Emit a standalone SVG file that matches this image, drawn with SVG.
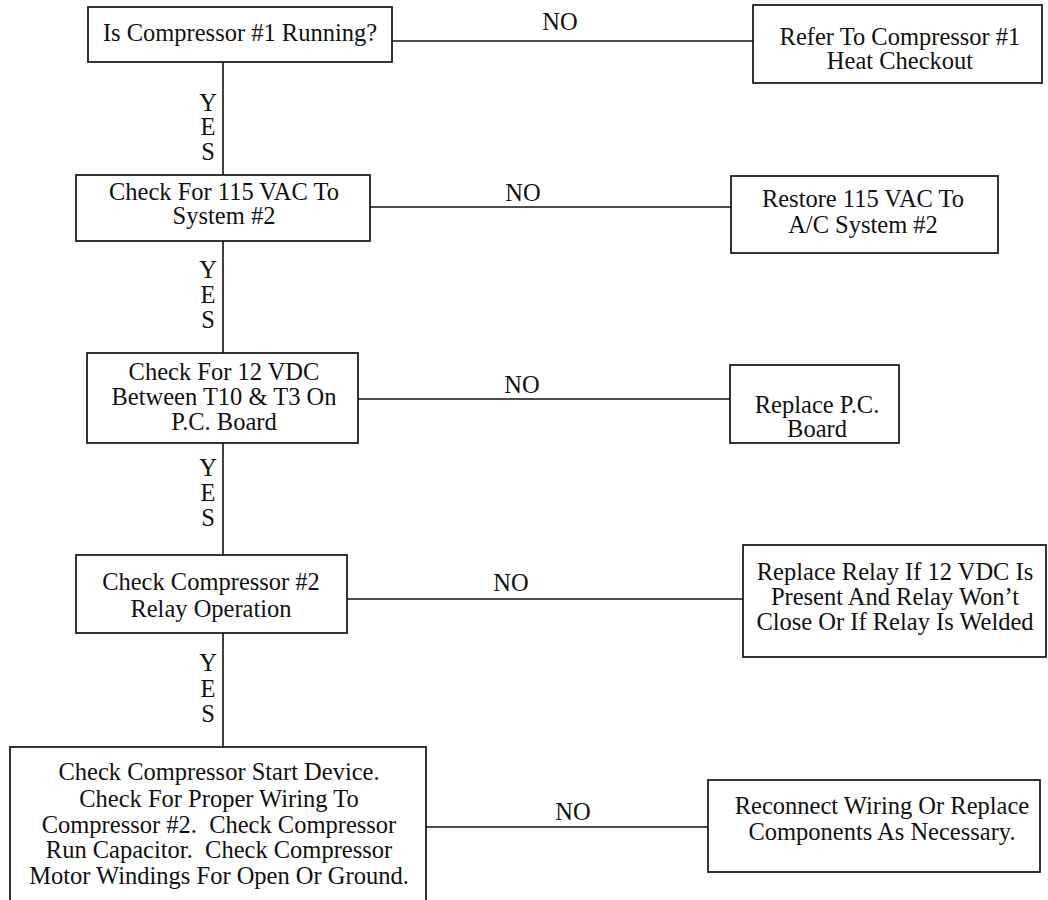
<svg xmlns="http://www.w3.org/2000/svg" width="1048" height="900" viewBox="0 0 1048 900">
<style>
.box{fill:#fff;stroke:#111;stroke-width:1.7}
.ln{stroke:#111;stroke-width:1.6;fill:none}
text{font-family:"Liberation Serif","Times New Roman",serif;font-size:24.5px;fill:#111;white-space:pre}
.c{text-anchor:middle}
</style>
<rect width="1048" height="900" fill="#fff"/>
<g id="connectors">
<line class="ln" x1="223" y1="62" x2="223" y2="175"/>
<line class="ln" x1="223" y1="241" x2="223" y2="353"/>
<line class="ln" x1="223" y1="443" x2="223" y2="555"/>
<line class="ln" x1="223" y1="633" x2="223" y2="747"/>
<line class="ln" x1="392" y1="41" x2="753" y2="41"/>
<line class="ln" x1="370" y1="207" x2="731" y2="207"/>
<line class="ln" x1="358" y1="399" x2="730" y2="399"/>
<line class="ln" x1="347" y1="599" x2="743" y2="599"/>
<line class="ln" x1="426" y1="827" x2="708" y2="827"/>
<text class="c" x="560" y="30">NO</text>
<text class="c" x="523" y="201">NO</text>
<text class="c" x="522" y="393">NO</text>
<text class="c" x="511" y="591">NO</text>
<text class="c" x="573" y="820">NO</text>
<text class="c" x="208" y="111">Y</text>
<text class="c" x="208" y="135">E</text>
<text class="c" x="208" y="160">S</text>
<text class="c" x="208" y="278">Y</text>
<text class="c" x="208" y="303">E</text>
<text class="c" x="208" y="328">S</text>
<text class="c" x="208" y="476">Y</text>
<text class="c" x="208" y="501">E</text>
<text class="c" x="208" y="526">S</text>
<text class="c" x="208" y="671">Y</text>
<text class="c" x="208" y="697">E</text>
<text class="c" x="208" y="722">S</text>
</g>
<g id="n1">
<rect class="box" x="88" y="7" width="304" height="55"/>
<text class="c" x="240" y="41">Is Compressor #1 Running?</text>
</g>
<g id="n2">
<rect class="box" x="753" y="5" width="289" height="78"/>
<text class="c" x="900" y="45">Refer To Compressor #1</text>
<text class="c" x="900" y="69">Heat Checkout</text>
</g>
<g id="n3">
<rect class="box" x="76" y="175" width="294" height="66"/>
<text class="c" x="224" y="200">Check For 115 VAC To</text>
<text class="c" x="224" y="224">System #2</text>
</g>
<g id="n4">
<rect class="box" x="731" y="176" width="267" height="77"/>
<text class="c" x="863" y="207">Restore 115 VAC To</text>
<text class="c" x="863" y="233">A/C System #2</text>
</g>
<g id="n5">
<rect class="box" x="87" y="353" width="271" height="90"/>
<text class="c" x="224" y="380">Check For 12 VDC</text>
<text class="c" x="224" y="405">Between T10 &amp; T3 On</text>
<text class="c" x="224" y="430">P.C. Board</text>
</g>
<g id="n6">
<rect class="box" x="730" y="365" width="169" height="78"/>
<text class="c" x="817" y="413">Replace P.C.</text>
<text class="c" x="817" y="437">Board</text>
</g>
<g id="n7">
<rect class="box" x="76" y="555" width="271" height="78"/>
<text class="c" x="211" y="590">Check Compressor #2</text>
<text class="c" x="211" y="617">Relay Operation</text>
</g>
<g id="n8">
<rect class="box" x="743" y="545" width="303" height="112"/>
<text class="c" x="895" y="580">Replace Relay If 12 VDC Is</text>
<text class="c" x="895" y="605">Present And Relay Won’t</text>
<text class="c" x="895" y="630">Close Or If Relay Is Welded</text>
</g>
<g id="n9">
<rect class="box" x="10" y="747" width="416" height="165"/>
<text class="c" x="219" y="780">Check Compressor Start Device.</text>
<text class="c" x="219" y="807">Check For Proper Wiring To</text>
<text class="c" x="219" y="833" xml:space="preserve">Compressor #2.  Check Compressor</text>
<text class="c" x="219" y="858" xml:space="preserve">Run Capacitor.  Check Compressor</text>
<text class="c" x="219" y="884">Motor Windings For Open Or Ground.</text>
</g>
<g id="n10">
<rect class="box" x="708" y="780" width="332" height="92"/>
<text class="c" x="882" y="814">Reconnect Wiring Or Replace</text>
<text class="c" x="882" y="840">Components As Necessary.</text>
</g>
</svg>
